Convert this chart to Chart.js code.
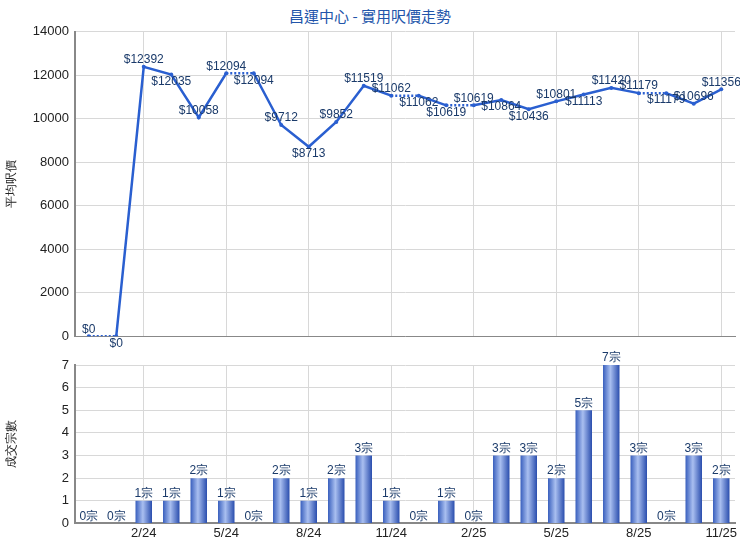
<!DOCTYPE html>
<html><head><meta charset="utf-8">
<script src="https://cdn.jsdelivr.net/npm/chart.js@4"></script>
<style>
body{margin:0;background:#fff;font-family:"Noto Sans CJK TC",Arial,sans-serif;}
#t{position:absolute;left:0;top:5px;width:740px;text-align:center;color:#2255aa;font-size:15px;}
#c1{position:absolute;left:0;top:18px;}
#c2{position:absolute;left:0;top:350px;}
</style></head><body>
<div id="t">昌運中心 - 實用呎價走勢</div>
<canvas id="c1" width="740" height="332"></canvas>
<canvas id="c2" width="740" height="193"></canvas>
<script>
// months Dec 2023 .. Nov 2025
const months = ['12/23','1/24','2/24','3/24','4/24','5/24','6/24','7/24','8/24','9/24','10/24','11/24',
  '12/24','1/25','2/25','3/25','4/25','5/25','6/25','7/25','8/25','9/25','10/25','11/25'];
const prices = [0,0,12392,12035,10058,12094,12094,9712,8713,9852,11519,11062,11062,10619,10619,10864,10436,10801,11113,11420,11179,11179,10696,11356];
const deals = [0,0,1,1,2,1,0,2,1,2,3,1,0,1,0,3,3,2,5,7,3,0,3,2];
const shownTicks = [2,5,8,11,14,17,20,23];
// which price labels sit under the point
const labelsBelow = [1,3,6,8,12,13,15,16,18,21];

const font = {family:'Arial, "Noto Sans CJK TC"', size:12};
const gridX = {color: c => shownTicks.includes(c.index) ? '#d8d8d8' : 'rgba(0,0,0,0)', offset:false, drawTicks:false};

const labelPlugin = {
  id:'labels',
  afterDatasetsDraw(chart){
    const ctx = chart.ctx, meta = chart.getDatasetMeta(0), isLine = chart.config.type==='line';
    ctx.save(); ctx.font='12px Arial'; ctx.fillStyle='#1a3a6a'; ctx.textAlign='center';
    meta.data.forEach((el,i)=>{
      if(isLine){
        const up = !labelsBelow.includes(i);
        ctx.textBaseline = up ? 'bottom' : 'top';
        ctx.fillText('$'+prices[i], el.x, up ? el.y-1 : el.y+1);
      } else {
        ctx.textBaseline='bottom';
        ctx.fillText(deals[i]+'宗', el.x, el.y-1);
      }
    });
    ctx.restore();
  }
};

new Chart(document.getElementById('c1'), {
  type:'line',
  data:{labels:months, datasets:[{data:prices, borderColor:'#2a5fd0', borderWidth:2.5, pointRadius:2,
    pointBackgroundColor:'#2a5fd0', pointBorderWidth:0, tension:0,
    segment:{borderDash: c => deals[c.p1DataIndex]===0 ? [2,2] : undefined}}]},
  options:{responsive:false, animation:false, layout:{padding:{left:0,right:5,top:5}},
    plugins:{legend:{display:false}, tooltip:{enabled:false}},
    scales:{
      x:{offset:true, grid:gridX, ticks:{display:false}, border:{color:'#888'}},
      y:{min:0,max:14000, ticks:{stepSize:2000, font:{...font,size:13}, color:'#222', padding:6, callback:v=>String(v)},
        grid:{color:'#d8d8d8', drawTicks:false}, border:{color:'#888', width:2},
        title:{display:true, text:'平均呎價', font:{size:12}, color:'#222'}, afterFit(s){s.width=75;}}
    }},
  plugins:[labelPlugin]
});

new Chart(document.getElementById('c2'), {
  type:'bar',
  data:{labels:months, datasets:[{data:deals, borderWidth:0,
    backgroundColor: c => {
      const ch=c.chart; if(!ch.chartArea) return '#3a66c8';
      const x=ch.scales.x.getPixelForValue(c.dataIndex), w=9;
      const g=ch.ctx.createLinearGradient(x-w,0,x+w,0);
      g.addColorStop(0,'#2d55b8'); g.addColorStop(0.45,'#a9bff0'); g.addColorStop(1,'#1f44a8');
      return g;
    }, barPercentage:0.6, categoryPercentage:1}]},
  options:{responsive:false, animation:false, layout:{padding:{left:0,right:5,top:15}},
    plugins:{legend:{display:false}, tooltip:{enabled:false}},
    scales:{
      x:{offset:true, grid:gridX, border:{color:'#888', width:2},
        ticks:{font:{...font,size:13}, color:'#222', autoSkip:false, maxRotation:0, padding:2,
          callback:(v,i)=> shownTicks.includes(i) ? months[i] : ''}},
      y:{min:0,max:7, ticks:{stepSize:1, font:{...font,size:13}, color:'#222', padding:6},
        grid:{color:'#d8d8d8', drawTicks:false}, border:{color:'#888', width:2},
        title:{display:true, text:'成交宗數', font:{size:12}, color:'#222'}, afterFit(s){s.width=75;}}
    }},
  plugins:[labelPlugin]
});
</script></body></html>
